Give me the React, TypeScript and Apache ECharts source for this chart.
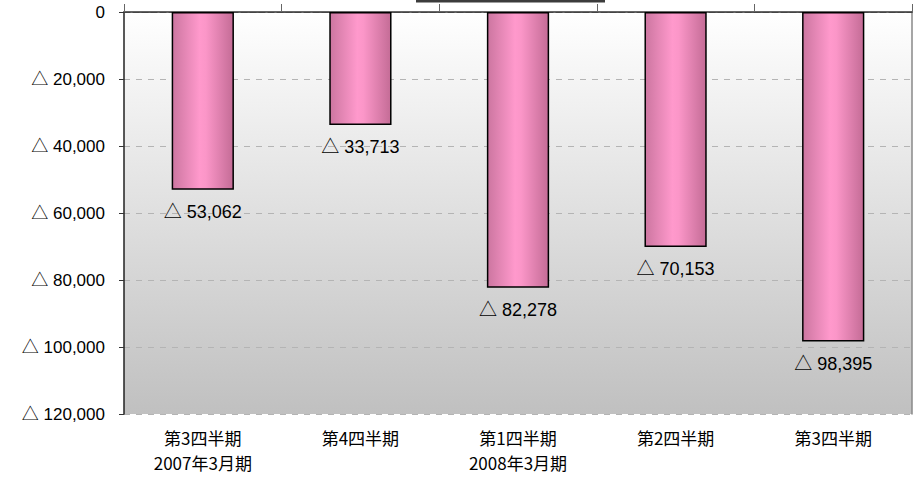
import React, { useEffect, useRef } from "react";
import * as echarts from "echarts";

const categories = ["第3四半期\n2007年3月期", "第4四半期", "第1四半期\n2008年3月期", "第2四半期", "第3四半期"];
const lossValues = [53062, 33713, 82278, 70153, 98395];
const yMin = 0;
const yMax = 120000;
const yStep = 20000;

const fmt = (v: number) => (v === 0 ? "0" : "△ " + v.toLocaleString("en-US"));
const NUM_FONT = "'Liberation Sans', 'Noto Sans CJK JP', sans-serif";
const JP_FONT = "'Noto Sans CJK JP', 'Noto Sans', sans-serif";

export default function App() {
  const ref = useRef<HTMLDivElement>(null);
  useEffect(() => {
    document.body.style.margin = "0";
    const chart = echarts.init(ref.current!, null, { renderer: "svg" });
    chart.setOption({
      animation: false,
      textStyle: { fontFamily: NUM_FONT },
      grid: {
        left: 124,
        top: 12,
        right: 2,
        bottom: 65,
        show: true,
        borderWidth: 0,
        backgroundColor: new echarts.graphic.LinearGradient(0, 0, 0, 1, [
          { offset: 0, color: "#ffffff" },
          { offset: 1, color: "#c0c0c0" },
        ]),
      },
      xAxis: [
        {
          type: "category",
          data: categories,
          position: "top",
          axisLine: { show: true, lineStyle: { color: "#333333", width: 1.5 } },
          axisTick: { show: true, inside: false, length: 8, lineStyle: { color: "#666666" } },
          axisLabel: { show: false },
        },
        {
          type: "category",
          data: categories,
          position: "bottom",
          axisLine: { show: true, lineStyle: { color: "#444444", type: [6, 3], width: 1 } },
          axisTick: { show: false },
          axisLabel: {
            show: true,
            color: "#000000",
            fontSize: 17,
            fontFamily: JP_FONT,
            lineHeight: 25,
            margin: 11,
          },
        },
      ],
      yAxis: [
        {
          type: "value",
          min: yMin,
          max: yMax,
          interval: yStep,
          inverse: true,
          axisLine: { show: true, lineStyle: { color: "#222222", width: 1.5 } },
          axisTick: { show: true, length: 5, lineStyle: { color: "#333333" } },
          axisLabel: {
            color: "#000000",
            fontSize: 17,
            fontFamily: NUM_FONT,
            margin: 19,
            formatter: (v: number) => fmt(v),
          },
          splitLine: { show: true, lineStyle: { color: "#b4b4b4", type: [6, 6], width: 1 } },
        },
        {
          type: "value",
          min: yMin,
          max: yMax,
          interval: yStep,
          inverse: true,
          position: "right",
          axisLine: { show: true, lineStyle: { color: "#888888", width: 1.5 } },
          axisTick: { show: false },
          axisLabel: { show: false },
          splitLine: { show: false },
        },
      ],
      series: [
        {
          type: "bar",
          data: lossValues,
          xAxisIndex: 0,
          yAxisIndex: 0,
          barWidth: "39.5%",
          itemStyle: {
            borderColor: "#000000",
            borderWidth: 1.5,
            color: new echarts.graphic.LinearGradient(0, 0, 1, 0, [
              { offset: 0, color: "#cc76a0" },
              { offset: 0.45, color: "#ff99cc" },
              { offset: 0.55, color: "#fb96c8" },
              { offset: 1, color: "#c46c96" },
            ]),
          },
          label: {
            show: true,
            position: "bottom",
            distance: 13,
            color: "#000000",
            fontSize: 18,
            fontFamily: NUM_FONT,
            formatter: (p: any) => fmt(p.value),
          },
        },
      ],
      graphic: [
        {
          type: "rect",
          shape: { x: 416, y: 0, width: 189, height: 2.5 },
          style: { fill: "#3c3c3c" },
        },
      ],
    });
    return () => chart.dispose();
  }, []);
  return <div ref={ref} style={{ width: 914, height: 479 }} />;
}
